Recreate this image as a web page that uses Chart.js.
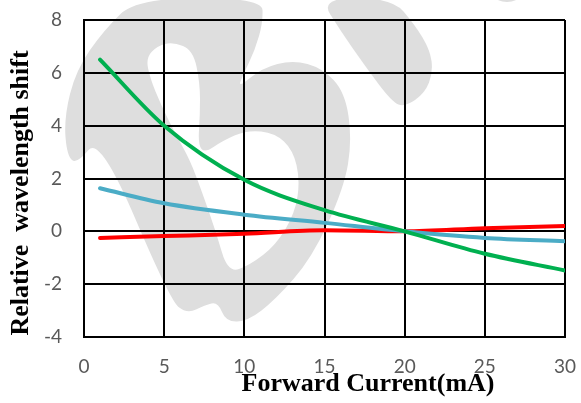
<!DOCTYPE html>
<html>
<head>
<meta charset="utf-8">
<script src="https://cdn.jsdelivr.net/npm/chart.js@4/dist/chart.umd.min.js"></script>
<style>
html,body{margin:0;padding:0;background:#fff;}
#wrap{width:581px;height:403px;position:relative;}
</style>
</head>
<body>
<div id="wrap"><canvas id="c"></canvas></div>
<script>
const current = [1, 5, 10, 15, 20, 25, 30];
const greenShift = [6.5, 4.0, 1.95, 0.8, 0, -0.85, -1.48];
const blueShift = [1.63, 1.06, 0.63, 0.32, 0, -0.25, -0.38];
const redShift = [-0.25, -0.18, -0.09, 0.04, 0, 0.12, 0.2];
const xTicks = [0, 5, 10, 15, 20, 25, 30];
const yTicks = [-4, -2, 0, 2, 4, 6, 8];
const xTitle = 'Forward Current(mA)';
const yTitle = 'Relative  wavelength shift';

function pts(ys){ return current.map((x,i)=>({x:x,y:ys[i]})); }

// background watermark outline (decoration only)
const wmOuter = [[137,-2],[262,-2],[263,22],[255,50],[243,75],[238,88],[262,68],[293,60],[322,68],[345,92],[352,140],[344,188],[312,258],[275,300],[248,321],[226,322],[218,302],[205,305],[187,314],[170,300],[100,136],[77,164],[67,156],[64,118],[76,70],[104,30]];
const wmHole = [[173,42],[193,50],[200,83],[200,115],[198,145],[205,153],[222,141],[247,130],[275,133],[293,150],[300,180],[295,213],[276,245],[250,265],[228,273],[216,232],[202,192],[190,160],[176,135],[161,105],[150,78],[146,58],[157,46]];
const wmRight = [[320,-2],[392,-2],[415,25],[430,50],[433,72],[425,93],[405,107],[392,102],[365,66],[340,30]];

function smooth(ctx, p){
  const n = p.length;
  const mid = (a,b)=>[(a[0]+b[0])/2,(a[1]+b[1])/2];
  let m = mid(p[n-1], p[0]);
  ctx.moveTo(m[0], m[1]);
  for(let i=0;i<n;i++){
    const q = p[i], m2 = mid(p[i], p[(i+1)%n]);
    ctx.quadraticCurveTo(q[0], q[1], m2[0], m2[1]);
  }
  ctx.closePath();
}

const watermark = {
  id:'watermark',
  beforeDraw(chart){
    const ctx = chart.ctx;
    ctx.save();
    ctx.fillStyle = '#ffffff';
    ctx.fillRect(0,0,chart.width,chart.height);
    ctx.fillStyle = '#dedede';
    ctx.beginPath();
    smooth(ctx, wmOuter);
    smooth(ctx, wmHole);
    ctx.fill('evenodd');
    ctx.beginPath();
    smooth(ctx, wmRight);
    ctx.fill();
    ctx.beginPath();
    ctx.ellipse(507,-4,12,6,0,0,Math.PI*2);
    ctx.fill();
    ctx.restore();
  }
};

const titles = {
  id:'titles',
  afterDraw(chart){
    const ctx = chart.ctx;
    ctx.save();
    ctx.fillStyle = '#000';
    ctx.font = 'bold 26px "Liberation Serif"';
    ctx.textAlign = 'center';
    ctx.textBaseline = 'alphabetic';
    ctx.fillText(xTitle, 368, 391);
    ctx.translate(28, 193);
    ctx.rotate(-Math.PI/2);
    ctx.fillText(yTitle, 0, 0);
    ctx.restore();
  }
};

function zeroPad(s){ s.paddingTop = 0; s.paddingBottom = 0; s.paddingLeft = 0; s.paddingRight = 0; }

new Chart(document.getElementById('c'), {
  type:'line',
  data:{
    datasets:[
      {label:'green', data:pts(greenShift), borderColor:'#00b050', borderWidth:4},
      {label:'blue', data:pts(blueShift), borderColor:'#4bacc6', borderWidth:4},
      {label:'red', data:pts(redShift), borderColor:'#ff0000', borderWidth:4}
    ]
  },
  options:{
    responsive:true,
    maintainAspectRatio:false,
    animation:false,
    layout:{padding:{left:0,right:16,top:20,bottom:0}},
    elements:{
      point:{radius:0},
      line:{cubicInterpolationMode:'monotone', borderCapStyle:'round', fill:false}
    },
    plugins:{legend:{display:false}, tooltip:{enabled:false}},
    scales:{
      x:{
        type:'linear', min:0, max:30,
        afterBuildTicks(s){ s.ticks = xTicks.map(v=>({value:v})); },
        afterFit(s){ s.height = 66; zeroPad(s); },
        grid:{color:'#000', lineWidth:2, drawTicks:false},
        border:{color:'#000', width:2},
        ticks:{padding:18, color:'#595959', font:{family:'Lato', size:19}}
      },
      y:{
        type:'linear', min:-4, max:8,
        afterBuildTicks(s){ s.ticks = yTicks.map(v=>({value:v})); },
        afterFit(s){ s.width = 84; zeroPad(s); },
        grid:{color:'#000', lineWidth:2, drawTicks:false},
        border:{color:'#000', width:2},
        ticks:{padding:22, color:'#595959', font:{family:'Lato', size:19}}
      }
    }
  },
  plugins:[watermark, titles]
});
</script>
</body>
</html>
